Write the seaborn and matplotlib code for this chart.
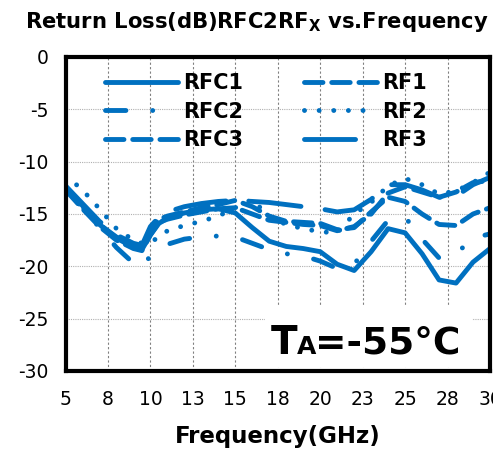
import numpy as np
import pandas as pd
import matplotlib
matplotlib.use('Agg')
import matplotlib.pyplot as plt
from matplotlib.patches import Rectangle
import seaborn as sns

# Frequency points (GHz)
freq = [5, 6, 7, 8, 9, 9.5, 10, 10.5, 11, 12, 13, 14, 15, 16, 17, 18, 19, 20,
        21, 22, 23, 24, 25, 26, 27, 28, 29, 30]

# Return loss (dB) for each path
rfc1 = [-12.4, -14.2, -16.0, -17.3, -18.2, -18.4, -17.0, -15.9, -15.4, -14.9, -14.6, -14.5, -14.9, -16.3,
        -17.6, -18.1, -18.3, -18.6, -19.8, -20.4, -18.6, -16.4, -16.8, -18.8, -21.3, -21.6, -19.6, -18.3]
rfc2 = [-12.6, -14.4, -16.3, -18.2, -19.7, -20.1, -19.0, -18.3, -17.9, -17.4, -17.2, -17.1, -17.2, -17.8,
        -18.4, -18.8, -19.0, -19.5, -20.2, -19.8, -17.6, -15.6, -15.3, -17.4, -19.2, -18.8, -17.3, -16.9]
rfc3 = [-12.5, -14.3, -16.0, -17.2, -18.0, -18.1, -16.5, -15.5, -15.2, -14.8, -14.4, -14.1, -13.7, -14.3,
        -15.2, -15.7, -15.8, -15.9, -16.5, -16.3, -14.8, -13.4, -13.8, -15.0, -16.0, -16.1, -15.0, -14.4]
rf1 = [-12.7, -14.5, -16.2, -17.5, -18.3, -18.5, -17.0, -15.8, -15.5, -15.1, -14.8, -14.5, -14.4, -15.0,
       -15.6, -15.8, -16.0, -16.1, -16.6, -16.2, -15.0, -13.0, -12.4, -12.9, -13.4, -12.9, -12.0, -11.8]
rf2 = [-11.3, -12.7, -14.5, -16.4, -17.5, -17.8, -17.6, -17.3, -16.6, -16.1, -15.7, -15.2, -14.4, -13.6,
       -15.3, -16.0, -16.4, -16.7, -16.8, -15.0, -13.9, -12.3, -11.6, -12.2, -13.1, -12.8, -12.0, -11.0]
rf3 = [-12.3, -14.0, -15.7, -17.0, -17.8, -18.0, -16.2, -15.3, -14.8, -14.3, -14.0, -13.8, -13.7, -13.8,
       -13.9, -14.1, -14.3, -14.5, -14.8, -14.6, -13.6, -12.2, -12.2, -12.7, -13.4, -13.3, -12.2, -11.5]

x_ticks = [5, 7.5, 10, 12.5, 15, 17.5, 20, 22.5, 25, 27.5, 30]
x_tick_labels = ['5', '8', '10', '13', '15', '18', '20', '23', '25', '28', '30']
y_ticks = [0, -5, -10, -15, -20, -25, -30]

series = {
    'RFC1': (rfc1, '-'),
    'RFC2': (rfc2, (0, (4.2, 5.5, 0.01, 5.5))),
    'RFC3': (rfc3, (0, (3.8, 1.8))),
    'RF1': (rf1, (0, (3.8, 1.8))),
    'RF2': (rf2, (0, (0.01, 3.0))),
    'RF3': (rf3, (0, (10.5, 5))),
}

sns.set_style('white')
plt.rcParams['font.family'] = ['DejaVu Sans']
plt.rcParams['axes.unicode_minus'] = False
plt.rcParams['text.color'] = 'black'
plt.rcParams['axes.labelcolor'] = 'black'
plt.rcParams['xtick.color'] = 'black'
plt.rcParams['ytick.color'] = 'black'

fig = plt.figure(figsize=(4.93, 4.5), dpi=100)
ax = fig.add_axes([65.5 / 493, 1 - 371 / 450, 424.5 / 493, 314 / 450])

blue = '#0070C0'
for name, (vals, ls) in series.items():
    sns.lineplot(x=freq, y=vals, ax=ax, color=blue, linewidth=3.5, linestyle=ls,
                 label=name, dash_capstyle='round', solid_capstyle='round')

ax.set_xlim(5, 30)
ax.set_ylim(-30, 0)
ax.set_xticks(x_ticks)
ax.set_xticklabels(x_tick_labels)
ax.set_yticks(y_ticks)
ax.tick_params(axis='both', labelsize=13.5, direction='out', length=4, width=1.2, colors='black')
ax.tick_params(axis='x', pad=10)
ax.tick_params(axis='y', pad=8)

ax.xaxis.grid(True, linestyle=(0, (2, 2)), color='#808080', linewidth=0.8)
ax.yaxis.grid(True, linestyle=(0, (1, 1)), color='#b0b0b0', linewidth=0.8)
ax.set_axisbelow(True)
for sp in ax.spines.values():
    sp.set_color('black')
    sp.set_linewidth(3)

ax.set_xlabel('Frequency(GHz)', fontsize=16.5, fontweight='bold', labelpad=11)
ax.set_ylabel('')

fig.text(0.52, 0.951, r'Return Loss(dB)RFC2RF$_\mathbf{X}$ vs.Frequency', ha='center', va='center',
         fontsize=15.2, fontweight='bold')

leg = ax.legend(ncol=2, loc='upper left', bbox_to_anchor=(0.094, 0.948), frameon=False,
                fontsize=15, handlelength=3.5, columnspacing=2.9, labelspacing=0.4,
                borderaxespad=0, borderpad=0, handletextpad=0.24)
for t in leg.get_texts():
    t.set_fontweight('bold')

# temperature annotation with white box behind it
fig.add_artist(Rectangle((265 / 493, 1 - 367 / 450), 207 / 493, 60 / 450,
                         transform=fig.transFigure, facecolor='white', edgecolor='none', zorder=2))
base_y = 1 - 354 / 450
fig.text(271 / 493, base_y, 'T', fontsize=28, fontweight='bold', va='baseline', ha='left', zorder=3)
fig.text(297 / 493, base_y, 'A', fontsize=18, fontweight='bold', va='baseline', ha='left', zorder=3)
fig.text(315 / 493, base_y, '=-55°C', fontsize=27, fontweight='bold', va='baseline', ha='left', zorder=3)

fig.savefig('out.png', dpi=100)
